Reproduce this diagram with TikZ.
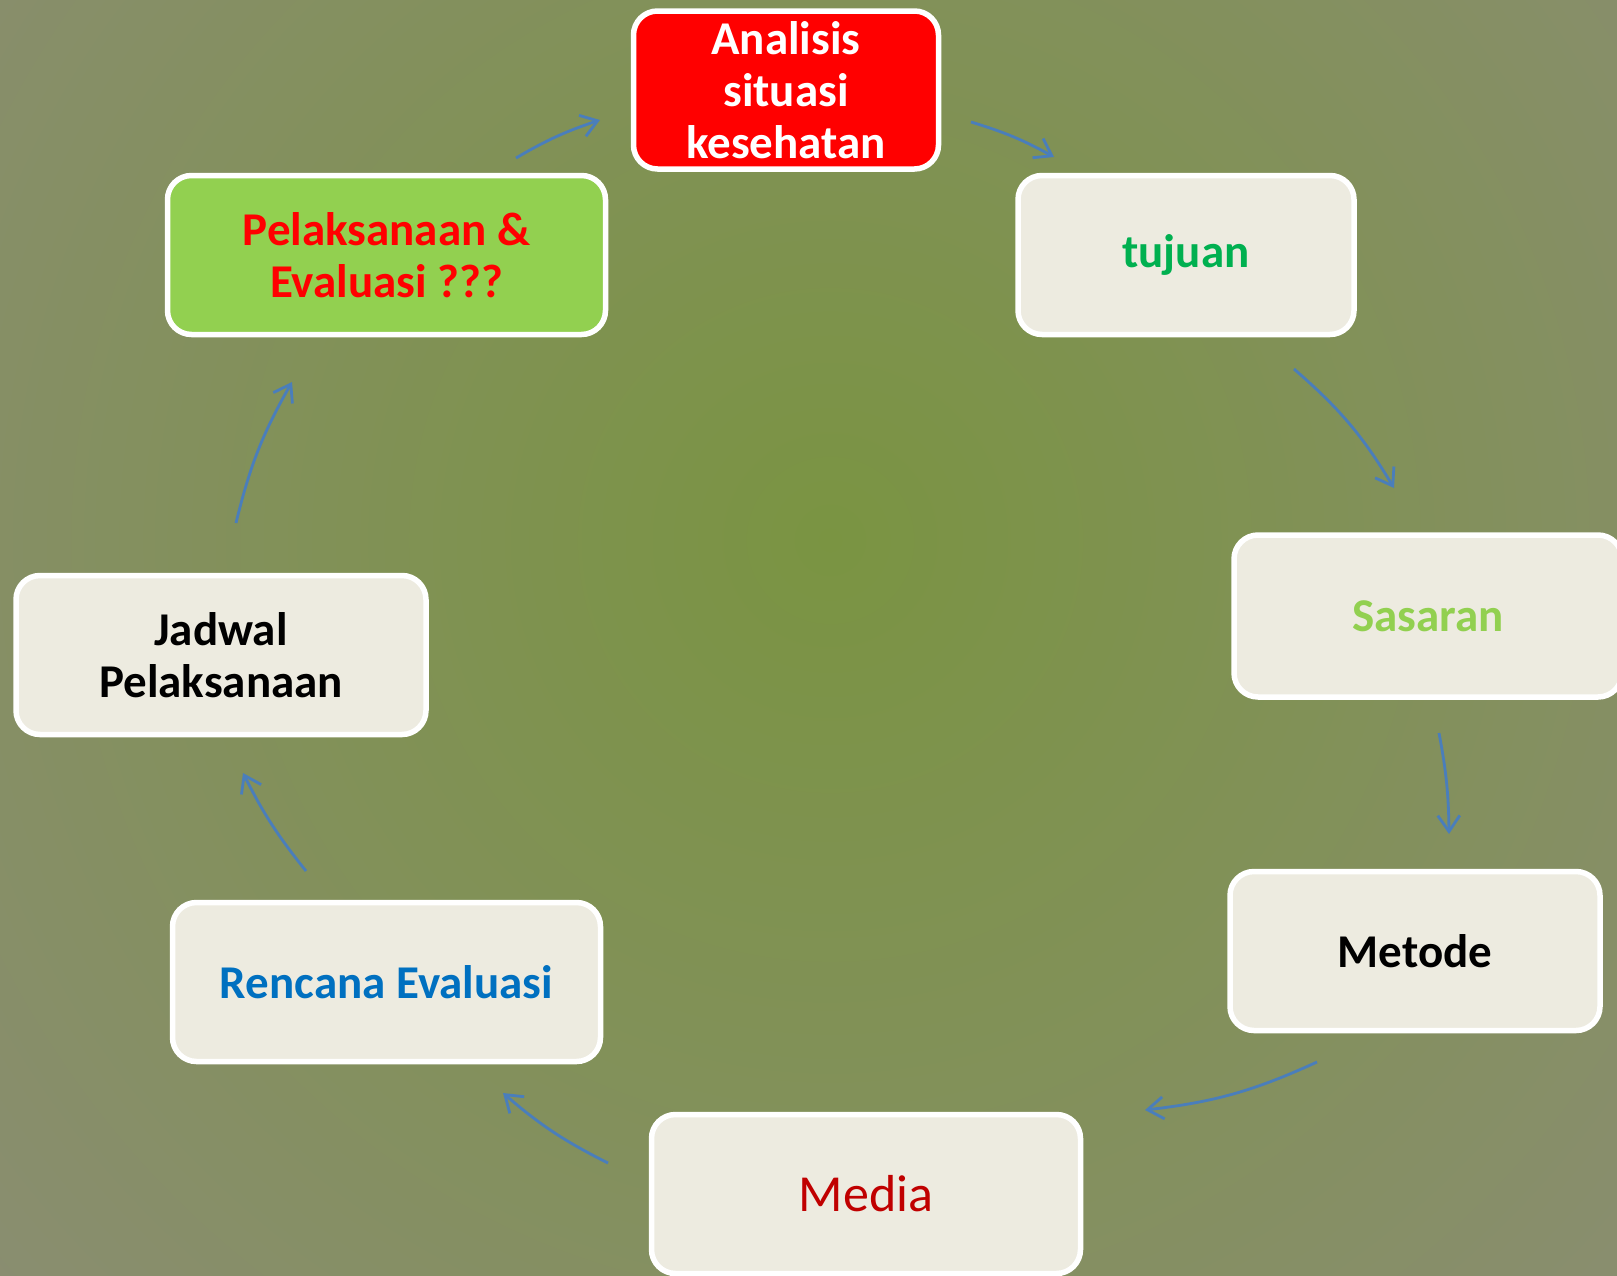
\documentclass[tikz,border=0pt]{standalone}
\usepackage{fontspec}
\setmainfont{Carlito}
\usetikzlibrary{arrows.meta}
\definecolor{bgin}{HTML}{7A9442}
\definecolor{bgout}{HTML}{8D8C7A}
\definecolor{boxfill}{HTML}{EDEBE0}
\definecolor{arrowblue}{HTML}{4A7EBB}
\definecolor{lightgreen}{HTML}{92D050}
\definecolor{darkgreen}{HTML}{00B050}
\definecolor{darkred}{HTML}{C00000}
\definecolor{midblue}{HTML}{0070C0}
\begin{document}
\begin{tikzpicture}[x=1pt,y=-1pt,
  box/.style={draw=white, line width=5.5pt, rounded corners=24pt, fill=boxfill,
    align=center, inner sep=0pt, minimum height=159pt,
    font=\fontsize{47}{52}\selectfont\bfseries},
  arr/.style={draw=arrowblue, line width=2.8pt,
    -{Straight Barb[length=16pt,width=22pt]}}]
\useasboundingbox (0,0) rectangle (1617,1275);
\clip (0,0) rectangle (1617,1275);
\fill[bgout] (0,0) rectangle (1617,1275);
\shade[inner color=bgin, outer color=bgout] (830,540) circle (1350);

\node[box, fill=red, text=white, minimum width=305pt, minimum height=158pt] (ana) at (786,90) {Analisis\\situasi\\kesehatan};
\node[box, text=darkgreen, minimum width=336pt] (tuj) at (1186,255) {tujuan};
\node[box, text=lightgreen, minimum width=388pt, minimum height=162pt] (sas) at (1428,616) {Sasaran};
\node[box, text=black, minimum width=370pt] (met) at (1415,951) {Metode};
\node[box, text=darkred, minimum width=429pt, font=\fontsize{52}{58}\selectfont] (med) at (866,1194) {Media};
\node[box, text=midblue, minimum width=428pt] (ren) at (386.5,982) {Rencana Evaluasi};
\node[box, text=black, minimum width=410pt] (jad) at (221,655) {Jadwal\\Pelaksanaan};
\node[box, fill=lightgreen, text=red, minimum width=438pt] (pel) at (386.5,255) {Pelaksanaan \&\\Evaluasi ???};

\coordinate (a1s) at (516,158); \coordinate (a1e) at (600,120);
\coordinate (a2s) at (971,122); \coordinate (a2e) at (1054,157);
\coordinate (a3s) at (1294,369); \coordinate (a3e) at (1394,488);
\coordinate (a4s) at (1439,733); \coordinate (a4e) at (1449,834);
\coordinate (a5s) at (1317,1062); \coordinate (a5e) at (1145,1110);
\coordinate (a6s) at (608,1163); \coordinate (a6e) at (503,1093);
\coordinate (a7s) at (306,871); \coordinate (a7e) at (243,773);
\coordinate (a8s) at (236,523); \coordinate (a8e) at (292,382);

\draw[arr] (a1s) to[bend left=6] (a1e);
\draw[arr] (a2s) to[bend left=6] (a2e);
\draw[arr] (a3s) to[bend left=9] (a3e);
\draw[arr] (a4s) to[bend left=5] (a4e);
\draw[arr] (a5s) to[bend left=9] (a5e);
\draw[arr] (a6s) to[bend left=7] (a6e);
\draw[arr] (a7s) to[bend left=6] (a7e);
\draw[arr] (a8s) to[bend left=8] (a8e);
\end{tikzpicture}
\end{document}
